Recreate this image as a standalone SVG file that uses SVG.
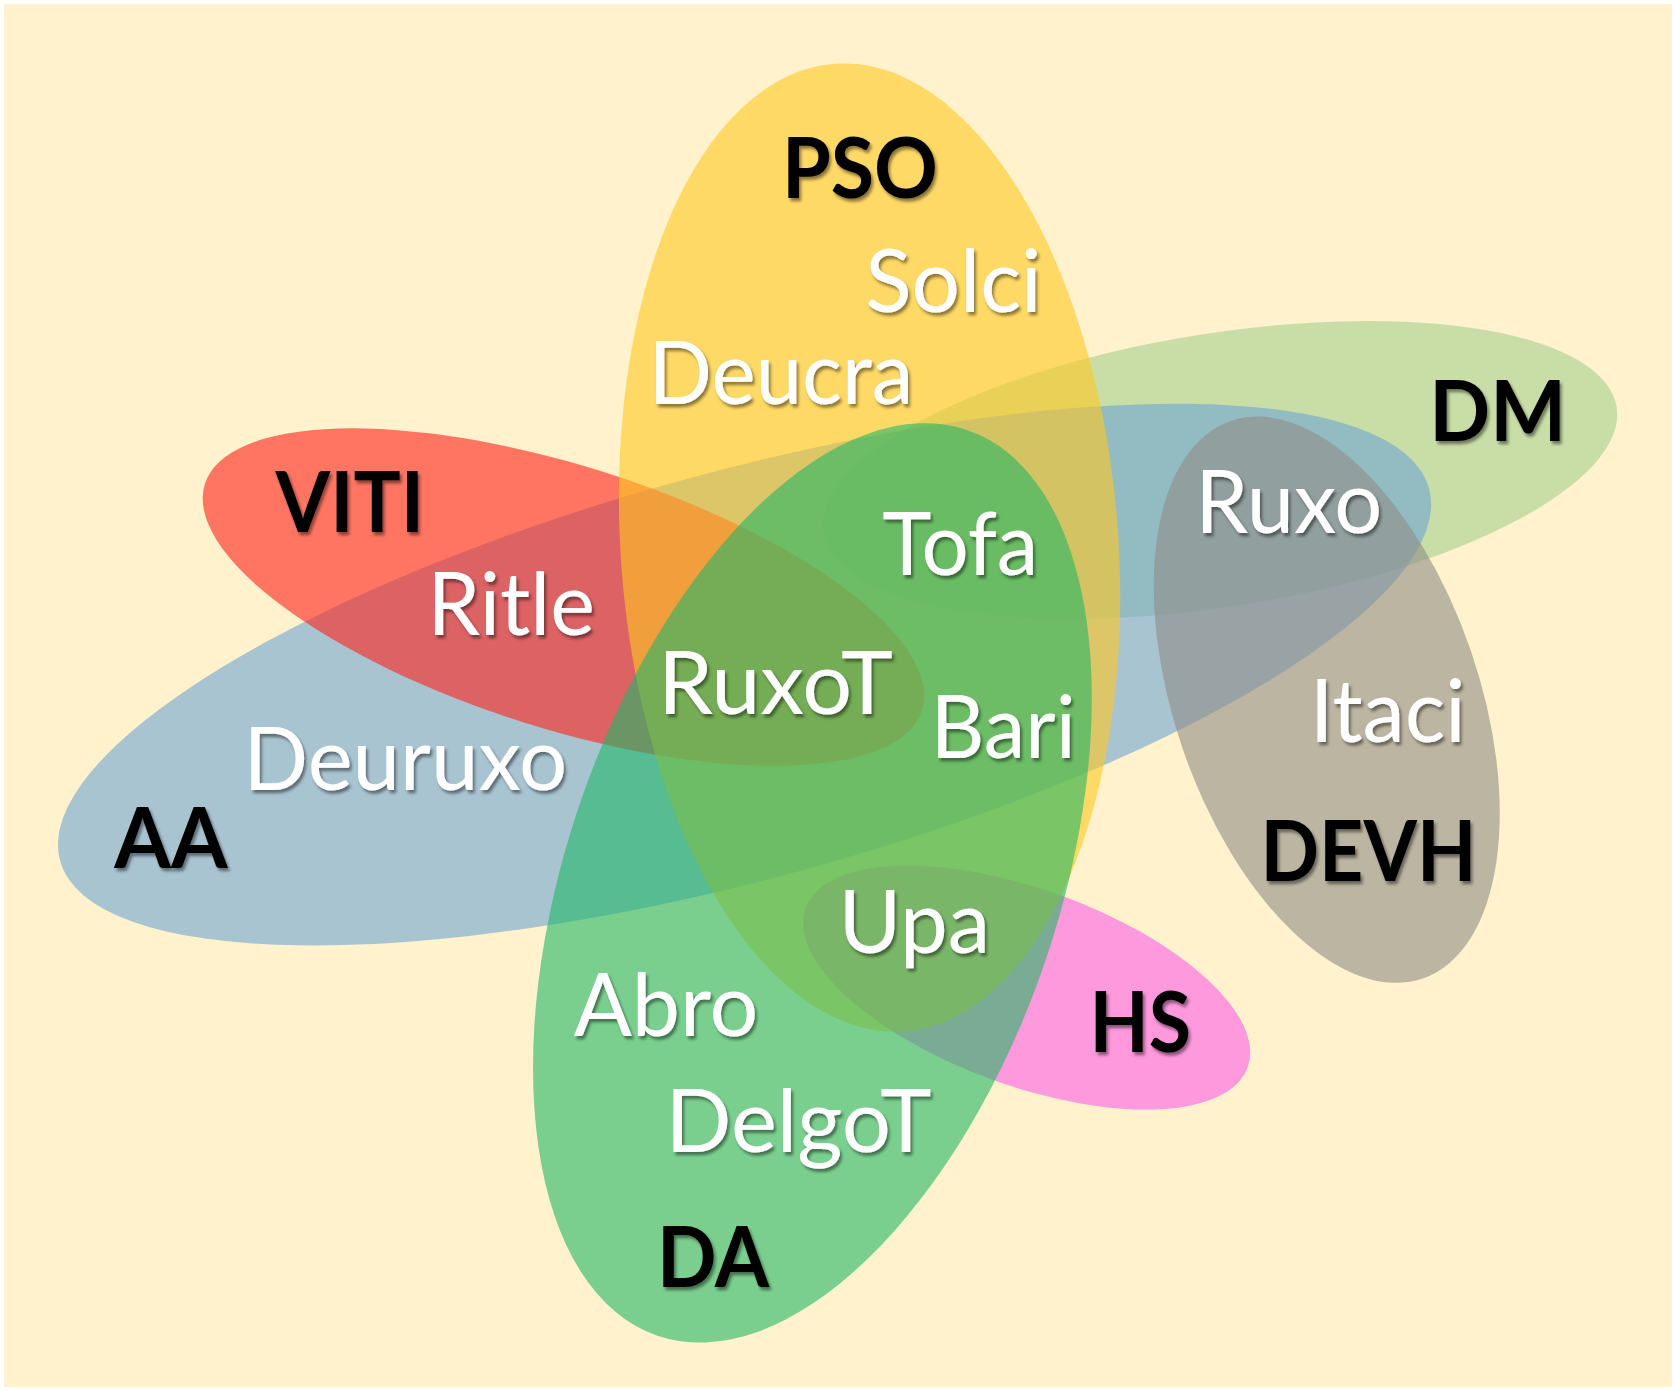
<svg xmlns="http://www.w3.org/2000/svg" width="1675" height="1390" viewBox="0 0 1675 1390">
  <defs>
    <filter id="sh" x="-10%" y="-10%" width="130%" height="140%">
      <feDropShadow dx="2" dy="3" stdDeviation="1.6" flood-color="#000" flood-opacity="0.45"/>
    </filter>
    <style>
      .set { opacity: 0.6; }
      .lbl { font-family: Lato, "Liberation Sans", Arial, sans-serif; font-size: 81px; fill: #ffffff; filter: url(#sh); }
      .ttl { font-family: Lato, "Liberation Sans", Arial, sans-serif; font-size: 79px; font-weight: bold; fill: #000000; filter: url(#sh); }
    </style>
  </defs>
  <rect x="0" y="0" width="1675" height="1390" fill="#ffffff"/>
  <rect x="4" y="4" width="1668" height="1383" fill="#FFF2CC"/>
  <g transform="scale(1.06824)">
    <g id="node-DM"><ellipse class="set" cx="1142" cy="440" rx="376" ry="128" transform="rotate(-9 1142 440)" fill="#A5D18D"/></g>
    <g id="node-AA"><ellipse class="set" cx="697" cy="631.5" rx="664" ry="191" transform="rotate(-15.2 697 631.5)" fill="#70A5D3"/></g>
    <g id="node-DEVH"><ellipse class="set" cx="1242" cy="655" rx="142.5" ry="276" transform="rotate(-19 1242 655)" fill="#8F8C86"/></g>
    <g id="node-VITI"><ellipse class="set" cx="527.5" cy="559" rx="352" ry="123" transform="rotate(17.5 527.5 559)" fill="#FF221A"/></g>
    <g id="node-HS"><ellipse class="set" cx="961" cy="924.5" rx="220" ry="92" transform="rotate(19.8 961 924.5)" fill="#FF5EE8"/></g>
    <g id="node-PSO"><ellipse class="set" cx="814" cy="512.5" rx="233" ry="454" transform="rotate(-4.1 814 512.5)" fill="#FFC822"/></g>
    <g id="node-DA"><ellipse class="set" cx="760.5" cy="826.5" rx="230" ry="448" transform="rotate(18.9 760.5 826.5)" fill="#21B865"/></g>
    <g id="connectors"></g>
    <g id="labels">
      <text class="ttl" x="732" y="185" textLength="146" lengthAdjust="spacingAndGlyphs">PSO</text>
      <text class="lbl" x="810" y="292" textLength="165" lengthAdjust="spacingAndGlyphs">Solci</text>
      <text class="lbl" x="607" y="378" textLength="248" lengthAdjust="spacingAndGlyphs">Deucra</text>
      <text class="ttl" x="1338" y="413" textLength="128" lengthAdjust="spacingAndGlyphs">DM</text>
      <text class="ttl" x="258" y="498" textLength="139" lengthAdjust="spacingAndGlyphs">VITI</text>
      <text class="lbl" x="1119" y="499" textLength="175" lengthAdjust="spacingAndGlyphs">Ruxo</text>
      <text class="lbl" x="826" y="538" textLength="146" lengthAdjust="spacingAndGlyphs">Tofa</text>
      <text class="lbl" x="400" y="594" textLength="157" lengthAdjust="spacingAndGlyphs">Ritle</text>
      <text class="lbl" x="616" y="668" textLength="220" lengthAdjust="spacingAndGlyphs">RuxoT</text>
      <text class="lbl" x="871" y="710" textLength="136" lengthAdjust="spacingAndGlyphs">Bari</text>
      <text class="lbl" x="1226" y="695" textLength="146" lengthAdjust="spacingAndGlyphs">Itaci</text>
      <text class="lbl" x="228" y="740" textLength="303" lengthAdjust="spacingAndGlyphs">Deuruxo</text>
      <text class="ttl" x="107" y="813" textLength="106" lengthAdjust="spacingAndGlyphs">AA</text>
      <text class="ttl" x="1180" y="825" textLength="202" lengthAdjust="spacingAndGlyphs">DEVH</text>
      <text class="lbl" x="785" y="892" textLength="142" lengthAdjust="spacingAndGlyphs">Upa</text>
      <text class="lbl" x="537" y="970" textLength="173" lengthAdjust="spacingAndGlyphs">Abro</text>
      <text class="ttl" x="1020" y="985" textLength="95" lengthAdjust="spacingAndGlyphs">HS</text>
      <text class="lbl" x="623" y="1078" textLength="249" lengthAdjust="spacingAndGlyphs">DelgoT</text>
      <text class="ttl" x="615" y="1205" textLength="105" lengthAdjust="spacingAndGlyphs">DA</text>
    </g>
  </g>
</svg>
